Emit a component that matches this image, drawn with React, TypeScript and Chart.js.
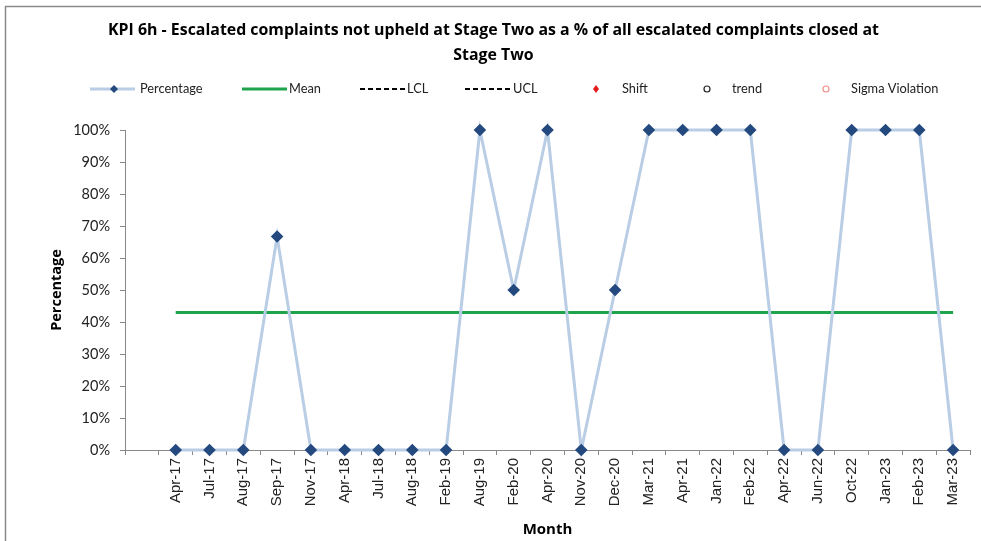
import React, { useEffect, useRef } from "react";
import { Chart, registerables } from "chart.js";

Chart.register(...registerables);

const titleLines = [
  "KPI 6h - Escalated complaints not upheld at Stage Two as a % of all escalated complaints closed at",
  "Stage Two",
];

const months = [
  "",
  "Apr-17", "Jul-17", "Aug-17", "Sep-17", "Nov-17", "Apr-18", "Jul-18", "Aug-18",
  "Feb-19", "Aug-19", "Feb-20", "Apr-20", "Nov-20", "Dec-20", "Mar-21", "Apr-21",
  "Jan-22", "Feb-22", "Apr-22", "Jun-22", "Oct-22", "Jan-23", "Feb-23", "Mar-23",
];

const percentage = [
  null,
  0, 0, 0, 66.7, 0, 0, 0, 0,
  0, 100, 50, 100, 0, 50, 100, 100,
  100, 100, 0, 0, 100, 100, 100, 0,
];

const meanValue = 43;
const mean = months.map((m, i) => (i === 0 ? null : meanValue));
const lcl = months.map(() => null);
const ucl = months.map(() => null);
const shift = months.map(() => null);
const trend = months.map(() => null);
const sigma = months.map(() => null);

const yTicks = [0, 10, 20, 30, 40, 50, 60, 70, 80, 90, 100];

const FONT = "Lato, 'Open Sans', sans-serif";
const BOLD = "'Open Sans', Lato, sans-serif";
const XFONT = "'Liberation Sans', Arial, sans-serif";

const frameAndLegend = {
  id: "frameAndLegend",
  afterDraw(chart: any) {
    const ctx = chart.ctx;
    ctx.save();
    ctx.strokeStyle = "#8a8a8a";
    ctx.lineWidth = 1.5;
    ctx.beginPath();
    ctx.moveTo(5.5, chart.height);
    ctx.lineTo(5.5, 6.5);
    ctx.lineTo(chart.width, 6.5);
    ctx.stroke();

    const y = 89;
    const ds = chart.data.datasets;
    ctx.font = `12.8px ${FONT}`;
    ctx.fillStyle = "#222";
    ctx.textBaseline = "middle";
    ctx.textAlign = "left";

    ctx.strokeStyle = ds[0].borderColor;
    ctx.lineWidth = 3;
    ctx.beginPath();
    ctx.moveTo(90, y);
    ctx.lineTo(135, y);
    ctx.stroke();
    ctx.fillStyle = ds[0].pointBackgroundColor;
    ctx.beginPath();
    ctx.moveTo(114, y - 4);
    ctx.lineTo(118, y);
    ctx.lineTo(114, y + 4);
    ctx.lineTo(110, y);
    ctx.closePath();
    ctx.fill();
    ctx.fillStyle = "#222";
    ctx.fillText(ds[0].label, 140, y);

    ctx.strokeStyle = ds[1].borderColor;
    ctx.lineWidth = 3;
    ctx.beginPath();
    ctx.moveTo(242, y);
    ctx.lineTo(287, y);
    ctx.stroke();
    ctx.fillText(ds[1].label, 289, y);

    [[2, 360, 407], [3, 465, 513]].forEach(([i, x0, tx]) => {
      ctx.strokeStyle = "#000";
      ctx.lineWidth = 2;
      ctx.setLineDash([5, 3]);
      ctx.beginPath();
      ctx.moveTo(x0, y);
      ctx.lineTo(x0 + 45, y);
      ctx.stroke();
      ctx.setLineDash([]);
      ctx.fillText(ds[i].label, tx, y);
    });

    ctx.fillStyle = "#e31b1b";
    ctx.beginPath();
    ctx.moveTo(596, y - 4);
    ctx.lineTo(599, y);
    ctx.lineTo(596, y + 4);
    ctx.lineTo(593, y);
    ctx.closePath();
    ctx.fill();
    ctx.fillStyle = "#222";
    ctx.fillText(ds[4].label, 622, y);

    ctx.strokeStyle = "#222";
    ctx.lineWidth = 1.2;
    ctx.beginPath();
    ctx.arc(707, y, 3, 0, Math.PI * 2);
    ctx.stroke();
    ctx.fillText(ds[5].label, 732, y);

    ctx.strokeStyle = "#f0908a";
    ctx.beginPath();
    ctx.arc(826, y, 3, 0, Math.PI * 2);
    ctx.stroke();
    ctx.fillText(ds[6].label, 851, y);
    ctx.restore();
  },
};

export default function App() {
  const ref = useRef<HTMLCanvasElement>(null);

  useEffect(() => {
    document.body.style.margin = "0";
    const canvas = ref.current!;
    const chart = new Chart(canvas, {
      type: "line",
      data: {
        labels: months,
        datasets: [
          {
            label: "Percentage",
            data: percentage,
            borderColor: "#b9cde5",
            borderWidth: 3,
            pointStyle: "rectRot",
            pointRadius: 6.3,
            pointBackgroundColor: "#23497e",
            pointBorderColor: "#23497e",
            pointBorderWidth: 0,
            tension: 0,
            clip: false,
            order: 0,
          },
          {
            label: "Mean",
            data: mean,
            borderColor: "#1fa44c",
            borderWidth: 3,
            pointRadius: 0,
            order: 1,
          },
          { label: "LCL", data: lcl, borderColor: "#000", borderDash: [5, 3], borderWidth: 2, pointRadius: 0 },
          { label: "UCL", data: ucl, borderColor: "#000", borderDash: [5, 3], borderWidth: 2, pointRadius: 0 },
          { label: "Shift", data: shift, showLine: false, pointStyle: "rectRot", pointRadius: 4, pointBackgroundColor: "#e31b1b" },
          { label: "trend", data: trend, showLine: false, pointStyle: "circle", pointRadius: 3, pointBorderColor: "#222", pointBackgroundColor: "transparent" },
          { label: "Sigma Violation", data: sigma, showLine: false, pointStyle: "circle", pointRadius: 3, pointBorderColor: "#f0908a", pointBackgroundColor: "transparent" },
        ] as any,
      },
      options: {
        animation: false,
        responsive: false,
        devicePixelRatio: 1,
        layout: { padding: { top: 0, left: 17, right: 11, bottom: 0 } },
        plugins: {
          legend: { display: false },
          tooltip: { enabled: false },
          title: {
            display: true,
            text: titleLines,
            color: "#000",
            font: { family: BOLD, size: 15.9, weight: "bold", lineHeight: 25 / 15.9 },
            padding: { top: 17.5, bottom: 62.5 },
          },
        },
        scales: {
          x: {
            type: "category",
            offset: true,
            afterFit: (s: any) => {
              s.height = 91;
            },
            border: { display: true, color: "#888", width: 1 },
            grid: {
              display: true,
              offset: true,
              drawOnChartArea: false,
              drawTicks: true,
              tickLength: 5,
              color: "#888",
            },
            ticks: {
              autoSkip: false,
              minRotation: 90,
              maxRotation: 90,
              padding: 3,
              color: "#222",
              font: { family: XFONT, size: 15 },
            },
            title: {
              display: true,
              text: "Month",
              color: "#000",
              font: { family: BOLD, size: 15, weight: "bold", lineHeight: 1.2 },
              padding: { top: 0, bottom: 2 },
            },
          },
          y: {
            min: 0,
            max: 100,
            afterFit: (s: any) => {
              s.width = 108;
            },
            afterBuildTicks: (s: any) => {
              s.ticks = yTicks.map((v) => ({ value: v }));
            },
            border: { display: true, color: "#888", width: 1 },
            grid: {
              display: true,
              drawOnChartArea: false,
              drawTicks: true,
              tickLength: 5,
              color: "#888",
            },
            ticks: {
              padding: 10,
              color: "#222",
              font: { family: FONT, size: 14.5 },
              callback: (v: any) => `${v}%`,
            },
            title: {
              display: true,
              text: "Percentage",
              color: "#000",
              font: { family: BOLD, size: 14.5, weight: "bold", lineHeight: 1.2 },
              padding: { top: 31, bottom: 0 },
            },
          },
        },
      },
      plugins: [frameAndLegend],
    });
    return () => chart.destroy();
  }, []);

  return (
    <div style={{ width: 981, height: 541, position: "relative", background: "#fff" }}>
      <canvas ref={ref} width={981} height={541} style={{ display: "block" }} />
    </div>
  );
}
